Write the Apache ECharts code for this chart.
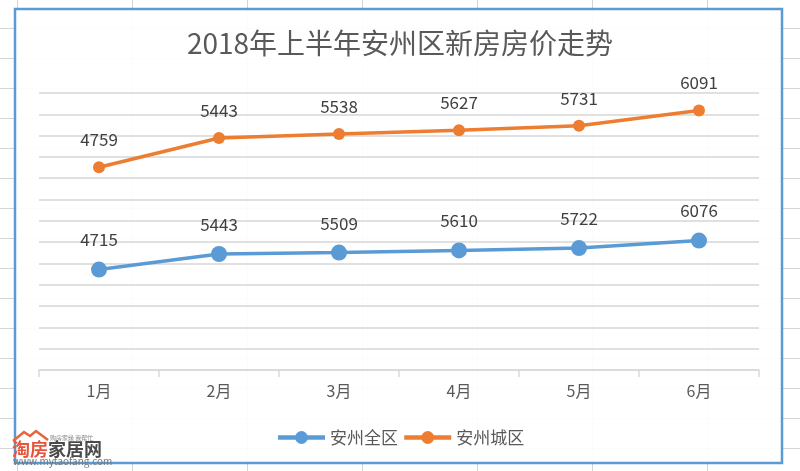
<!DOCTYPE html>
<html>
<head>
<meta charset="utf-8">
<script src="https://cdn.jsdelivr.net/npm/echarts@6/dist/echarts.min.js"></script>
<style>html,body{margin:0;padding:0;background:#fff;}#c{width:800px;height:471px;}</style>
</head>
<body>
<div id="c"></div>
<script>
const titleText = '2018年上半年安州区新房房价走势';
const months = ['1月', '2月', '3月', '4月', '5月', '6月'];
const seriesNames = ['安州全区', '安州城区'];
const allDistrict = [4715, 5443, 5509, 5610, 5722, 6076];
const cityDistrict = [4759, 5443, 5538, 5627, 5731, 6091];

const FONT = '"Noto Sans CJK SC", "Noto Sans", sans-serif';
const chart = echarts.init(document.getElementById('c'), null, {renderer: 'canvas'});

// spreadsheet background lines (decoration)
const bg = [];
for (let y = 28.5; y < 471; y += 30) {
  bg.push({type: 'line', z: -100, silent: true, shape: {x1: 0, y1: y, x2: 800, y2: y}, style: {stroke: '#d4d4d4', lineWidth: 1}});
}
for (let x = 17.5; x < 800; x += 115) {
  bg.push({type: 'line', z: -100, silent: true, shape: {x1: x, y1: 0, x2: x, y2: 471}, style: {stroke: '#d4d4d4', lineWidth: 1}});
}
bg.push({type: 'rect', z: -90, silent: true, shape: {x: 15, y: 9, width: 767, height: 454},
  style: {fill: 'rgba(255,255,255,0.93)', stroke: '#5b9bd5', lineWidth: 2.5}});
// watermark
bg.push({type: 'polyline', z: 100, silent: true,
  shape: {points: [[13, 441], [24, 432], [30, 436], [36, 431], [48, 440]]},
  style: {stroke: '#e8643a', lineWidth: 2.5, fill: null}});
bg.push({type: 'text', z: 100, silent: true, style: {x: 50, y: 435, text: '购房家缘 我帮忙', fill: '#888', font: '6px ' + FONT}});
bg.push({type: 'text', z: 100, silent: true, style: {x: 12, y: 440, text: '淘房', fill: '#e8543a', font: 'bold 18px ' + FONT}});
bg.push({type: 'text', z: 100, silent: true, style: {x: 48, y: 440, text: '家居网', fill: '#4a4a4a', font: 'bold 18px ' + FONT}});
bg.push({type: 'text', z: 100, silent: true, style: {x: 13, y: 456, text: 'www.mytaofang.com', fill: '#777', font: '10px ' + FONT}});

chart.setOption({
  animation: false,
  backgroundColor: '#ffffff',
  textStyle: {fontFamily: FONT},
  title: {
    text: titleText, left: 'center', top: 24,
    textStyle: {fontSize: 28, fontWeight: 'normal', color: '#595959', fontFamily: FONT}
  },
  graphic: bg,
  legend: {
    data: seriesNames, left: 'center', top: 424,
    itemWidth: 47, itemHeight: 16, itemGap: 4,
    lineStyle: {width: 4.5},
    textStyle: {fontSize: 17, color: '#595959', fontFamily: FONT}
  },
  grid: {left: 39, right: 41, top: 93, bottom: 101},
  xAxis: {
    type: 'category', data: months, boundaryGap: true,
    axisLine: {lineStyle: {color: '#d9d9d9', width: 1.5}},
    axisTick: {show: true, length: 7, lineStyle: {color: '#d9d9d9', width: 1.5}},
    axisLabel: {fontSize: 16, color: '#595959', margin: 13, fontFamily: FONT}
  },
  yAxis: [
    {type: 'value', min: 0, max: 6500, interval: 500,
      axisLine: {show: false}, axisTick: {show: false}, axisLabel: {show: false},
      splitLine: {show: true, lineStyle: {color: '#d6d6d6', width: 1.5}}},
    {type: 'value', min: 0, max: 13000, interval: 1000,
      axisLine: {show: false}, axisTick: {show: false}, axisLabel: {show: false},
      splitLine: {show: false}}
  ],
  series: [
    {
      name: seriesNames[0], type: 'line', yAxisIndex: 1, data: allDistrict,
      color: '#5b9bd5', symbol: 'circle', symbolSize: 16,
      lineStyle: {width: 3.5, color: '#5b9bd5'},
      itemStyle: {color: '#5b9bd5'},
      label: {show: true, position: 'top', distance: 13, fontSize: 17, color: '#404040', fontFamily: FONT}
    },
    {
      name: seriesNames[1], type: 'line', yAxisIndex: 0, data: cityDistrict,
      color: '#ed7d31', symbol: 'circle', symbolSize: 12,
      lineStyle: {width: 3.5, color: '#ed7d31'},
      itemStyle: {color: '#ed7d31'},
      label: {show: true, position: 'top', distance: 13, fontSize: 17, color: '#404040', fontFamily: FONT}
    }
  ]
});
</script>
</body>
</html>
